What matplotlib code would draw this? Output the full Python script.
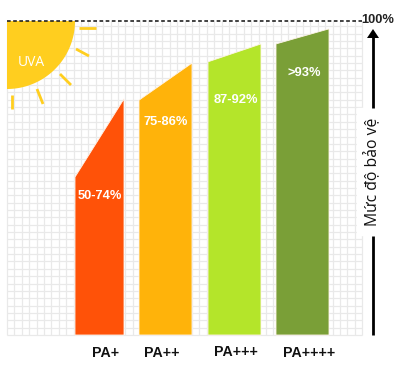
import numpy as np
import matplotlib
matplotlib.use("Agg")
import matplotlib.pyplot as plt
from matplotlib.patches import Polygon, Rectangle

# protection level at the left and right of each slanted bar
categories = ["PA+", "PA++", "PA+++", "PA++++"]
range_labels = ["50-74%", "75-86%", "87-92%", ">93%"]
left_values = [50.3, 74.8, 87.0, 92.7]
right_values = [75.2, 86.6, 92.7, 97.5]
bar_colors = ["#FF5208", "#FFB30A", "#B4E52A", "#7A9F37"]

W, H = 417, 373
BASE_PX, TOP_PX = 335, 21
PX_PER_PCT = (BASE_PX - TOP_PX) / 100


def py(px):
    # picture row to percent
    return (BASE_PX - px) / PX_PER_PCT


fig = plt.figure(figsize=(W / 100, H / 100), dpi=100)
ax = fig.add_axes([0, 0, 1, 1])
ax.set_xlim(0, W)
ax.set_ylim(py(H), py(0))
ax.axis("off")

# grid paper
ax.vlines(np.arange(7, 363, 7.4), 0, 100, color="#e9e9e9", lw=0.9, zorder=1)
ax.hlines(py(np.arange(335, 21, -7.35)), 7, 362, color="#e9e9e9", lw=0.9, zorder=1)

# white gap behind the axis title
ax.add_patch(Rectangle((357, py(235)), 40, py(108) - py(235), color="white", zorder=2))

# sun
t = np.linspace(0, np.pi / 2, 60)
sun = np.column_stack([7 + 68 * np.cos(t), py(21 + 68 * np.sin(t))])
sun = np.vstack([[7, 100], sun])
ax.add_patch(Polygon(sun, closed=True, fc="#FFCE1F", ec="none", zorder=3))
rays = [((79, 28), (96, 28)), ((76, 49), (89, 56)), ((60, 74), (71, 85)),
        ((37, 89), (43, 104)), ((12, 95), (12, 109))]
for a, b in rays:
    ax.plot([a[0], b[0]], [py(a[1]), py(b[1])], color="#FFCE1F", lw=2.0,
            solid_capstyle="butt", zorder=3)
ax.text(31, py(63), "UVA", color="white", fontsize=10, family="Open Sans",
        ha="center", va="center", zorder=5)

# bars
edges = [(75, 124), (139, 192), (208, 261), (276, 329)]
label_x = [100, 166, 236, 304]
label_y = [196, 122, 100, 73]
cat_x = [106, 162, 236, 309]
cat_y = [353, 353, 352, 353]
for i in range(len(categories)):
    x0, x1 = edges[i]
    pts = [(x0, 0), (x0, left_values[i]), (x1, right_values[i]), (x1, 0)]
    ax.add_patch(Polygon(pts, closed=True, fc=bar_colors[i], ec="#fff4ea", lw=0.6, zorder=3))
    ax.text(label_x[i], py(label_y[i]), range_labels[i], color="white", fontsize=9.3,
            fontweight="bold", family="Liberation Sans", ha="center", va="center", zorder=5)
    ax.text(cat_x[i], py(cat_y[i]), categories[i], color="#111111", fontsize=10.2,
            fontweight="bold", family="Liberation Sans", ha="center", va="center", zorder=5)

# 100% line and vertical arrow
ax.plot([7, 362], [100, 100], color="#222222", lw=1.2, ls=(0, (2.2, 1.5)), zorder=4)
ax.text(361, py(20), "100%", color="#222222", fontsize=9.3, fontweight="bold",
        family="Liberation Sans", ha="left", va="center", zorder=5)
ax.plot([373, 373], [py(108), py(36)], color="black", lw=2.0, solid_capstyle="butt", zorder=4)
ax.add_patch(Polygon([(367, py(38)), (379, py(38)), (373, py(29))], closed=True, fc="black",
                     ec="none", zorder=4))
ax.plot([373, 373], [py(236), py(335)], color="black", lw=2.0, solid_capstyle="butt", zorder=4)
ax.text(373, py(172), "Mức độ bảo vệ", color="#111111", fontsize=11.3, family="Open Sans",
        rotation=90, ha="center", va="center", zorder=5)

fig.savefig("out.png", dpi=100)
